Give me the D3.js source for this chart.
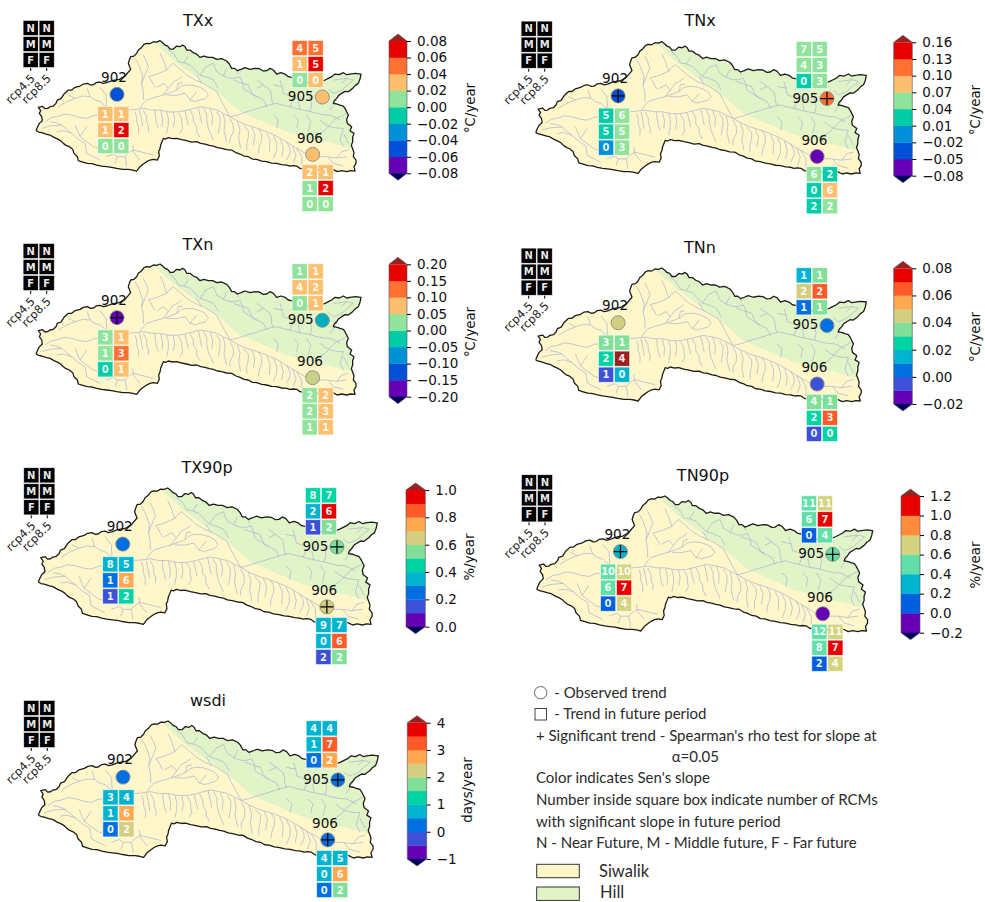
<!DOCTYPE html>
<html>

<head>
    <meta charset="utf-8">
    <style>
        body { margin: 0; background: #fff; }
        svg { display: block; font-family: "DejaVu Sans", sans-serif; }
        .legend-text { font-family: Lato, "Open Sans", sans-serif; font-size: 15px; fill: #2b2b2b; }
    </style>
</head>

<body>
    <script src="https://d3js.org/d3.v7.min.js"></script>
    <div id="chart"></div>
    <script>
        const width = 985
        const height = 902

        // ---- chart values ----
        const indices = ["TXx", "TNx", "TXn", "TNn", "TX90p", "TN90p", "wsdi"]
        const units = ["°C/year", "°C/year", "°C/year", "°C/year", "%/year", "%/year", "days/year"]
        const stations = ["902", "905", "906"]
        const scenarios = ["rcp4.5", "rcp8.5"]
        const periods = ["N", "M", "F"]

        const cbarTicks = [
            [-0.08, -0.06, -0.04, -0.02, 0, 0.02, 0.04, 0.06, 0.08],
            [-0.08, -0.05, -0.02, 0.01, 0.04, 0.07, 0.10, 0.13, 0.16],
            [-0.20, -0.15, -0.10, -0.05, 0, 0.05, 0.10, 0.15, 0.20],
            [-0.02, 0, 0.02, 0.04, 0.06, 0.08],
            [0, 0.2, 0.4, 0.6, 0.8, 1.0],
            [-0.2, 0, 0.2, 0.4, 0.6, 0.8, 1.0, 1.2],
            [-1, 0, 1, 2, 3, 4]
        ]
        const cbarBins = [8, 8, 8, 10, 10, 7, 10]

        // observed Sen's slope per station (902, 905, 906)
        const observedSlopes = [
            [-0.05, 0.03, 0.03],
            [-0.035, 0.115, -0.065],
            [-0.175, -0.05, 0.05],
            [0.045, 0.005, -0.005],
            [0.25, 0.55, 0.65],
            [0.3, 0.5, -0.1],
            [0.25, 0.25, 0.25]
        ]
        const observedSignificant = [
            [0, 0, 0],
            [1, 1, 0],
            [1, 0, 0],
            [0, 0, 0],
            [0, 1, 1],
            [1, 1, 0],
            [0, 1, 1]
        ]

        // future slope per index > station > N45 N85 M45 M85 F45 F85
        const futureSlopes = [
            [[.03, .03, .03, .07, .01, .01], [.05, .05, .03, .07, .01, .03], [.03, .03, .01, .07, .01, .01]],
            [[.025, .055, .025, .055, -.005, .055], [.055, .055, .055, .055, .025, .055], [.055, .025, .025, .085, .025, .055]],
            [[.025, .075, .025, .125, -.025, .075], [.025, .075, .075, .075, .025, .075], [.025, .075, .025, .075, .025, .075]],
            [[.035, .035, .025, .09, -.005, .015], [.015, .035, .045, .065, .005, .035], [.035, .035, .025, .065, -.005, .025]],
            [[.35, .35, .25, .75, .15, .45], [.45, .45, .35, .95, .15, .55], [.35, .35, .35, .85, .15, .55]],
            [[.5, .7, .5, 1.1, .1, .7], [.5, .7, .5, 1.1, .1, .5], [.5, .7, .5, 1.1, .1, .7]],
            [[.75, .75, .75, 2.75, .25, 2.25], [.75, .75, .75, 3.25, .25, 2.75], [.75, .75, .75, 2.75, .25, 1.75]]
        ]
        // number of RCMs with significant slope, same order
        const rcmCounts = [
            [[1, 1, 1, 2, 0, 0], [4, 5, 1, 5, 0, 0], [2, 1, 1, 2, 0, 0]],
            [[5, 6, 5, 5, 0, 3], [7, 5, 4, 3, 0, 3], [6, 2, 0, 6, 2, 2]],
            [[3, 1, 1, 3, 0, 1], [1, 1, 4, 2, 0, 1], [2, 2, 2, 3, 1, 1]],
            [[3, 1, 2, 4, 1, 0], [1, 1, 2, 2, 1, 1], [4, 1, 2, 3, 0, 0]],
            [[8, 5, 1, 6, 1, 2], [8, 7, 2, 6, 1, 2], [9, 7, 0, 6, 2, 2]],
            [[10, 10, 6, 7, 0, 4], [11, 11, 6, 7, 0, 4], [12, 11, 8, 7, 2, 4]],
            [[3, 4, 1, 6, 0, 2], [4, 4, 1, 7, 0, 2], [4, 5, 0, 6, 0, 2]]
        ]

        // basin geometry in map units
        const stationSites = [[351, 283], [967, 291], [938, 463]]
        const westEdge = [[108, 392], [113, 380], [118, 370], [127, 362], [125, 350], [118, 340], [122, 332], [115, 322], [128, 319], [135, 326], [143, 325], [150, 320], [160, 318], [168, 310], [172, 300], [183, 296], [192, 282], [205, 270], [215, 270], [225, 262], [240, 258], [250, 252], [262, 250], [272, 255], [280, 254], [290, 247], [300, 246], [310, 250], [320, 248], [332, 243], [345, 240], [358, 238], [368, 232], [375, 228], [380, 222], [392, 208], [388, 198], [385, 190], [388, 180], [392, 170], [402, 168], [410, 160], [415, 150], [424, 143], [432, 133], [440, 130], [450, 131], [460, 125]]
        const hillEdge = [[460, 125], [470, 126], [480, 122], [488, 128], [495, 135], [503, 138], [510, 147], [520, 147], [530, 138], [540, 140], [548, 135], [555, 140], [560, 150], [570, 150], [580, 158], [590, 162], [600, 172], [612, 168], [625, 172], [638, 172], [650, 178], [665, 176], [680, 183], [688, 192], [695, 205], [704, 205], [712, 212], [723, 208], [735, 203], [750, 208], [765, 205], [778, 206], [790, 213], [800, 212], [810, 205], [820, 210], [830, 222], [843, 218], [855, 222], [865, 230], [875, 232], [888, 242], [900, 245], [920, 248], [940, 245], [958, 246], [975, 240], [985, 235], [995, 230], [1005, 222], [1018, 224], [1030, 218], [1040, 224], [1050, 222], [1066, 220], [1083, 222], [1080, 237], [1075, 250], [1066, 256], [1058, 265], [1045, 275], [1035, 274], [1025, 280], [1016, 286], [1010, 295], [1003, 302], [1000, 310], [1012, 312], [1020, 315], [1030, 318], [1035, 325], [1040, 335], [1045, 345], [1040, 358], [1042, 370], [1055, 380], [1050, 392], [1062, 400], [1058, 412], [1058, 425], [1054, 436], [1058, 446]]
        const southEdge = [[1058, 446], [1062, 458], [1060, 470], [1068, 480], [1068, 490], [1062, 500], [1065, 513], [1052, 512], [1040, 515], [1025, 512], [1012, 515], [998, 508], [985, 508], [972, 513], [960, 512], [945, 506], [930, 507], [915, 508], [900, 505], [890, 498], [880, 497], [870, 498], [860, 495], [845, 494], [830, 490], [815, 489], [800, 485], [785, 483], [770, 478], [757, 477], [745, 470], [732, 468], [720, 462], [708, 458], [695, 450], [680, 449], [665, 445], [652, 443], [640, 438], [628, 436], [615, 432], [602, 430], [590, 425], [575, 426], [560, 422], [545, 419], [530, 415], [518, 416], [505, 413], [497, 417], [490, 415], [486, 425], [482, 435], [480, 446], [476, 455], [478, 468], [472, 480], [460, 478], [450, 480], [440, 485], [430, 492], [420, 500], [410, 513], [398, 510], [385, 508], [368, 508], [350, 505], [335, 502], [320, 500], [305, 498], [290, 495], [276, 491], [262, 490], [248, 486], [235, 482], [232, 470], [222, 460], [218, 448], [208, 440], [198, 436], [190, 430], [182, 422], [175, 418], [162, 412], [150, 405], [138, 402], [125, 398], [116, 396], [108, 392]]
        const divideLine = [[1058, 446], [1000, 430], [930, 415], [860, 395], [790, 365], [720, 335], [650, 275], [580, 225], [520, 180], [460, 125]]
        const rivers = [
            // west side
            [[135, 365], [155, 352], [170, 350], [192, 342], [215, 345], [238, 352], [260, 355], [282, 346], [300, 345], [322, 342], [345, 338], [385, 330]],
            [[175, 320], [200, 305], [225, 295], [248, 288], [270, 290], [285, 300], [300, 305], [320, 322], [345, 338]],
            [[205, 285], [225, 295]],
            [[262, 265], [270, 290]],
            [[300, 262], [318, 285], [320, 322]],
            [[150, 365], [168, 368], [185, 375], [200, 388], [215, 400], [235, 418], [255, 430], [258, 445], [260, 460], [280, 470], [300, 480]],
            [[125, 385], [150, 378], [185, 375]],
            [[170, 395], [190, 392], [215, 400]],
            [[225, 375], [240, 410], [260, 425], [280, 440], [305, 448], [330, 450]],
            [[260, 380], [240, 410]],
            [[380, 500], [378, 485], [375, 470], [385, 460], [400, 450], [420, 455], [440, 460], [460, 465]],
            [[420, 480], [410, 468], [400, 455], [398, 435]],
            [[345, 490], [352, 470], [375, 470]],
            [[318, 470], [340, 462], [352, 470]],
            // main stem and the short streams running into it from the south
            [[385, 330], [408, 328], [430, 325], [455, 330], [480, 330], [510, 336], [540, 335], [570, 328], [600, 320], [625, 324], [650, 330], [670, 340], [690, 350], [715, 364], [740, 375], [770, 384], [800, 395], [825, 406], [850, 420], [875, 436], [900, 450], [915, 460], [930, 465], [955, 470], [980, 470], [1010, 474], [1040, 470]],
            [[405, 335], [410, 350], [410, 365], [416, 382], [415, 400]],
            [[418, 330], [424, 355], [428, 380]],
            [[430, 330], [440, 350], [440, 365], [446, 380], [445, 395]],
            [[465, 330], [466, 350], [470, 370], [475, 385]],
            [[482, 332], [488, 358], [486, 380]],
            [[500, 335], [505, 355], [505, 375], [500, 400]],
            [[520, 336], [524, 360], [520, 382]],
            [[535, 338], [545, 355], [545, 370], [548, 385], [540, 400]],
            [[555, 332], [560, 355], [565, 375]],
            [[570, 330], [580, 350], [580, 365], [590, 380], [590, 395], [600, 412]],
            [[595, 322], [600, 345], [605, 370]],
            [[610, 325], [620, 342], [620, 360], [625, 385], [632, 402], [640, 420]],
            [[630, 326], [638, 350], [636, 375]],
            [[650, 335], [660, 352], [660, 370], [655, 400]],
            [[670, 342], [675, 368], [672, 392], [680, 425]],
            [[690, 355], [700, 375], [700, 395], [690, 415], [690, 430]],
            [[712, 364], [720, 388], [716, 415], [722, 445]],
            [[730, 375], [745, 392], [745, 410], [740, 430], [740, 450]],
            [[755, 380], [765, 405], [760, 435]],
            [[775, 385], [785, 402], [785, 420], [778, 440], [775, 460]],
            [[800, 398], [810, 420], [808, 455]],
            [[820, 405], [830, 428], [830, 450], [820, 475]],
            [[842, 418], [850, 445], [845, 470]],
            [[860, 425], [870, 445], [870, 460], [860, 480]],
            [[878, 438], [888, 465], [880, 490]],
            [[890, 445], [905, 470], [905, 495]],
            [[985, 472], [1000, 490], [1030, 498]],
            [[1010, 474], [1025, 455], [1045, 450]],
            // northern tributaries of the siwalik part
            [[420, 325], [430, 310], [440, 300], [465, 292], [490, 285], [510, 278], [530, 270], [545, 258], [560, 255], [580, 256], [600, 262], [615, 270], [625, 285], [615, 296], [600, 300], [585, 304], [570, 300], [590, 275]],
            [[490, 285], [505, 265], [520, 245], [532, 240], [545, 230]],
            [[500, 285], [528, 286], [555, 280], [570, 300]],
            [[530, 270], [535, 250], [548, 248]],
            [[430, 300], [430, 275], [425, 250], [428, 228], [420, 205], [414, 190], [405, 175]],
            [[425, 250], [435, 225], [445, 200], [438, 182], [430, 165]],
            [[445, 230], [472, 222], [500, 210], [495, 195], [490, 180], [480, 158]],
            [[500, 210], [510, 198], [520, 190], [538, 205], [560, 225], [585, 240], [610, 250], [630, 262], [650, 275], [668, 310], [690, 350]],
            [[465, 262], [452, 238], [445, 230]],
            [[470, 262], [492, 250], [505, 265]],
            [[590, 225], [605, 250]],
            // hill part
            [[505, 150], [520, 160], [528, 172], [535, 185], [552, 188], [570, 195], [585, 210], [600, 225], [622, 232], [640, 240], [648, 252], [655, 265]],
            [[552, 188], [565, 168]],
            [[600, 225], [618, 200], [640, 190]],
            [[640, 190], [645, 202], [650, 215], [670, 228], [690, 235], [705, 235], [720, 230], [728, 248], [730, 265], [750, 278], [770, 290]],
            [[670, 228], [680, 205]],
            [[715, 222], [712, 212]],
            [[690, 350], [715, 344], [740, 335], [765, 328], [790, 320], [810, 314], [830, 310], [850, 316], [870, 320], [890, 326], [910, 330], [930, 334], [950, 340], [970, 344], [990, 345], [1005, 352], [1020, 360]],
            [[700, 240], [722, 248], [745, 255], [752, 272], [760, 285], [775, 292], [790, 300], [796, 310], [800, 320]],
            [[770, 240], [790, 255], [810, 270], [814, 285], [815, 300], [820, 312]],
            [[790, 255], [770, 265]],
            [[840, 240], [846, 260], [850, 280], [865, 285], [880, 290], [876, 305], [870, 320]],
            [[820, 255], [846, 260]],
            [[905, 290], [895, 305], [900, 328]],
            [[930, 290], [935, 315], [930, 334]],
            [[1000, 240], [1020, 238], [1040, 235], [1060, 240], [1042, 255], [1025, 270], [1012, 276], [1000, 280], [985, 268]],
            [[1040, 235], [1025, 250]],
            [[990, 330], [1000, 315], [1010, 300]],
            [[960, 360], [975, 372], [990, 380], [1010, 384], [1030, 385], [1025, 402], [1020, 420], [1030, 440]],
            [[1040, 340], [1025, 348], [1010, 355], [992, 372], [975, 390], [960, 400], [945, 405]],
            [[1030, 400], [1038, 415], [1045, 430]],
            [[880, 345], [895, 360], [890, 385]],
            [[820, 345], [835, 360], [830, 385]],
            [[920, 345], [932, 365], [925, 395]]
        ]

        const legendLines = [
            "+ Significant trend - Spearman's rho test for slope at",
            "Color indicates Sen's slope",
            "Number inside square box indicate number of RCMs",
            "with significant slope in future period",
            "N - Near Future, M - Middle future, F - Far future"
        ]

        // ---- layout and styles ----
        const palettes = {
            7: ["#6600b4", "#0060e0", "#00b4d0", "#60e0a8", "#d4d480", "#ff8c3c", "#e60000"],
            8: ["#6600b4", "#0050d8", "#0090d8", "#00cca8", "#90e39b", "#fbbf6e", "#ff7033", "#e60000"],
            10: ["#6600b4", "#3d50d8", "#0070e0", "#00b4d0", "#00d4a4", "#80e09a", "#d4cf80", "#ffa850", "#ff5a28", "#e60000"]
        }
        const overColor = "#9b2020"
        const underColor = "#00005c"
        const siwalikColor = "#fff6ca"
        const hillColor = "#e1f4c8"

        const layout = [
            { mapX: [36, 361], mapY: [40.7, 171.7], key: [22.7, 20], title: [198, 26], bar: [389, 407, 41, 173.3], unit: [475, 108], fmt: ".2f" },
            { mapX: [535.7, 866.3], mapY: [41.7, 174], key: [520.7, 20.7], title: [700, 26], bar: [893.7, 912.3, 42.3, 175.7], unit: [980, 110], fmt: ".2f" },
            { mapX: [36, 361], mapY: [264, 395], key: [22.7, 243], title: [198, 250], bar: [389, 407, 264.3, 396.7], unit: [475, 332], fmt: ".2f" },
            { mapX: [535.7, 866.3], mapY: [268, 401.7], key: [520.7, 247.7], title: [700, 253], bar: [893.7, 912.3, 268.3, 404], unit: [980, 337], fmt: ".2f" },
            { mapX: [38.3, 377.3], mapY: [488, 625], key: [23.3, 467.3], title: [207, 473], bar: [406, 425.3, 490, 626.7], unit: [474, 557], fmt: ".1f" },
            { mapX: [536.7, 872.7], mapY: [496, 631.7], key: [521, 474.3], title: [703, 481], bar: [901, 920, 496, 632.7], unit: [980, 565], fmt: ".1f" },
            { mapX: [38.3, 378.3], mapY: [721, 858], key: [23.3, 700], title: [208, 706], bar: [407.3, 426.7, 722.7, 859], unit: [472, 790], fmt: "d" }
        ]
        const gridAnchors = [[292, 318], [875, 120], [905, 492]]
        const labelOffsets = [[-3, -12.7], [-21.6, 4], [-2.7, -11.7]]
        const cell = 16

        const svg = d3.select("#chart").append("svg")
            .attr("width", width)
            .attr("height", height)

        const drawGrid = (g, left, top, counts, colorOf) => {
            const xBand = d3.scaleBand().domain(scenarios).range([left, left + 2 * cell])
            const yBand = d3.scaleBand().domain(periods).range([top, top + 3 * cell])
            const cells = periods.flatMap((p, r) => scenarios.map((s, c) => ({ p, s, i: r * 2 + c })))
            const sel = g.append("g").selectAll("g").data(cells).enter().append("g")
            sel.append("rect")
                .attr("x", d => xBand(d.s) + 0.4)
                .attr("y", d => yBand(d.p) + 0.4)
                .attr("width", xBand.bandwidth() - 0.8)
                .attr("height", yBand.bandwidth() - 0.8)
                .attr("fill", d => colorOf(d))
                .attr("stroke", "#fff")
                .attr("stroke-opacity", 0.75)
                .attr("stroke-width", 0.8)
            sel.append("text")
                .attr("x", d => xBand(d.s) + cell / 2)
                .attr("y", d => yBand(d.p) + cell / 2 + 3.6)
                .attr("text-anchor", "middle")
                .attr("font-size", 10)
                .attr("font-weight", "bold")
                .attr("fill", "#fff")
                .attr("fill-opacity", 0.92)
                .text(d => counts(d))
        }

        const drawPanel = (name, idx) => {
            const lay = layout[idx]
            const g = svg.append("g").attr("class", "panel").attr("id", "panel-" + name)

            const xMap = d3.scaleLinear().domain([108, 1083]).range(lay.mapX)
            const yMap = d3.scaleLinear().domain([122, 515]).range(lay.mapY)
            const line = d3.line().x(d => xMap(d[0])).y(d => yMap(d[1]))

            // colour scales from the colour bar range
            const ticks = cbarTicks[idx]
            const lo = ticks[0]
            const hi = ticks[ticks.length - 1]
            const colors = palettes[cbarBins[idx]]
            const binned = d3.scaleQuantize().domain([lo, hi]).range(colors)
            const cellColor = v => v > hi ? overColor : v < lo ? underColor : binned(v)
            const binWidth = (hi - lo) / colors.length
            const pointColor = d3.scaleLinear()
                .domain(colors.map((c, i) => lo + binWidth * (i + 0.5)))
                .range(colors)
                .clamp(true)

            // basin
            const outline = westEdge.concat(hillEdge.slice(1), southEdge.slice(1))
            g.append("path").attr("d", line(outline)).attr("fill", siwalikColor)
            g.append("path").attr("d", line(hillEdge.concat(divideLine.slice(1)))).attr("fill", hillColor)
            g.append("g").selectAll("path").data(rivers).enter().append("path")
                .attr("d", line)
                .attr("fill", "none")
                .attr("stroke", "#a6add6")
                .attr("stroke-width", 0.65)
            g.append("path").attr("d", line(outline))
                .attr("fill", "none")
                .attr("stroke", "#1c1c1c")
                .attr("stroke-width", 1.3)
                .attr("stroke-linejoin", "round")

            // stations
            stations.forEach((st, s) => {
                const cx = xMap(stationSites[s][0])
                const cy = yMap(stationSites[s][1])
                drawGrid(g, xMap(gridAnchors[s][0]), yMap(gridAnchors[s][1]),
                    d => rcmCounts[idx][s][d.i],
                    d => cellColor(futureSlopes[idx][s][d.i]))
                g.append("circle")
                    .attr("cx", cx)
                    .attr("cy", cy)
                    .attr("r", 7)
                    .attr("fill", pointColor(observedSlopes[idx][s]))
                    .attr("stroke", "#8a8a8a")
                    .attr("stroke-width", 0.9)
                if (observedSignificant[idx][s]) {
                    g.append("path")
                        .attr("d", d3.line()([[cx - 6.5, cy], [cx + 6.5, cy]]) + d3.line()([[cx, cy - 6.5], [cx, cy + 6.5]]))
                        .attr("stroke", "#000")
                        .attr("stroke-width", 1.2)
                }
                g.append("text")
                    .attr("x", cx + labelOffsets[s][0])
                    .attr("y", cy + labelOffsets[s][1])
                    .attr("text-anchor", "middle")
                    .attr("font-size", 13.6)
                    .attr("fill", "#111")
                    .text(st)
            })

            // N/M/F key
            const keyX = d3.scaleBand().domain(scenarios).range([lay.key[0], lay.key[0] + 2 * cell])
            drawGrid(g, lay.key[0], lay.key[1], d => d.p, () => "#000")
            const keyAxis = g.append("g")
                .attr("transform", "translate(0," + (lay.key[1] + 3 * cell) + ")")
                .call(d3.axisBottom(keyX).tickSize(3).tickSizeOuter(0))
            keyAxis.select(".domain").remove()
            keyAxis.selectAll("text")
                .attr("font-family", "DejaVu Sans")
                .attr("font-size", 11.4)
                .attr("fill", "#222")
                .attr("text-anchor", "end")
                .attr("dy", 0)
                .attr("y", 0)
                .attr("transform", "translate(5,11) rotate(-45)")

            // title
            g.append("text")
                .attr("x", lay.title[0])
                .attr("y", lay.title[1])
                .attr("text-anchor", "middle")
                .attr("font-size", 16)
                .attr("fill", "#111")
                .text(name)

            // colour bar
            const [bx0, bx1, by0, by1] = lay.bar
            const yBar = d3.scaleLinear().domain([lo, hi]).range([by1, by0])
            const tip = 7 / (by1 - by0) * (hi - lo)
            const bar = g.append("g").attr("class", "colorbar")
            bar.selectAll("rect").data(colors).enter().append("rect")
                .attr("x", bx0)
                .attr("width", bx1 - bx0)
                .attr("y", (c, i) => yBar(lo + binWidth * (i + 1)))
                .attr("height", (c, i) => yBar(lo + binWidth * i) - yBar(lo + binWidth * (i + 1)) + 0.3)
                .attr("fill", c => c)
            const xMid = (bx0 + bx1) / 2
            const overTip = [[bx0, yBar(hi)], [xMid, yBar(hi + tip)], [bx1, yBar(hi)]]
            const underTip = [[bx0, yBar(lo)], [xMid, yBar(lo - tip)], [bx1, yBar(lo)]]
            bar.append("path").attr("d", d3.line()(overTip) + "Z").attr("fill", overColor)
            bar.append("path").attr("d", d3.line()(underTip) + "Z").attr("fill", underColor)
            bar.append("path")
                .attr("d", d3.line()([[bx0, by0], overTip[1], [bx1, by0], [bx1, by1], underTip[1], [bx0, by1]]) + "Z")
                .attr("fill", "none")
                .attr("stroke", "#555")
                .attr("stroke-width", 0.6)
            const barAxis = bar.append("g")
                .attr("transform", "translate(" + bx1 + ",0)")
                .call(d3.axisRight(yBar).tickValues(ticks).tickFormat(d3.format(lay.fmt)).tickSize(4).tickPadding(6))
            barAxis.select(".domain").remove()
            barAxis.selectAll("text")
                .attr("font-family", "DejaVu Sans")
                .attr("font-size", 13.5)
                .attr("fill", "#111")

            // unit label
            g.append("text")
                .attr("transform", "translate(" + lay.unit[0] + "," + lay.unit[1] + ") rotate(-90)")
                .attr("text-anchor", "middle")
                .attr("font-size", 13.3)
                .attr("fill", "#111")
                .text(units[idx])
        }

        indices.forEach(drawPanel)

        // ---- notes at the lower right ----
        const notes = svg.append("g").attr("class", "notes")
        const addNote = (x, y, txt) => notes.append("text")
            .attr("class", "legend-text")
            .attr("x", x)
            .attr("y", y)
            .text(txt)

        notes.append("circle").attr("cx", 540.7).attr("cy", 692.7).attr("r", 6.2)
            .attr("fill", "#fff").attr("stroke", "#666").attr("stroke-width", 1)
        addNote(554.3, 697.7, "- Observed trend")
        notes.append("rect").attr("x", 535).attr("y", 708.5).attr("width", 11.5).attr("height", 11.5)
            .attr("fill", "#fff").attr("stroke", "#444").attr("stroke-width", 1)
        addNote(554.3, 719.2, "- Trend in future period")
        addNote(536, 740.7, legendLines[0])
        addNote(671.7, 762.3, "α=0.05")
        addNote(536, 783.3, legendLines[1])
        addNote(536, 805, legendLines[2])
        addNote(536, 826.7, legendLines[3])
        addNote(536, 848.3, legendLines[4])

        notes.append("rect").attr("x", 536.7).attr("y", 864.3).attr("width", 42.6).attr("height", 13.4)
            .attr("fill", siwalikColor).attr("stroke", "#333").attr("stroke-width", 1)
        addNote(599, 876.7, "Siwalik").style("font-size", "16.5px")
        notes.append("rect").attr("x", 536.7).attr("y", 887).attr("width", 42.6).attr("height", 13.4)
            .attr("fill", hillColor).attr("stroke", "#333").attr("stroke-width", 1)
        addNote(600, 897.5, "Hill").style("font-size", "16.5px")
    </script>
</body>

</html>
